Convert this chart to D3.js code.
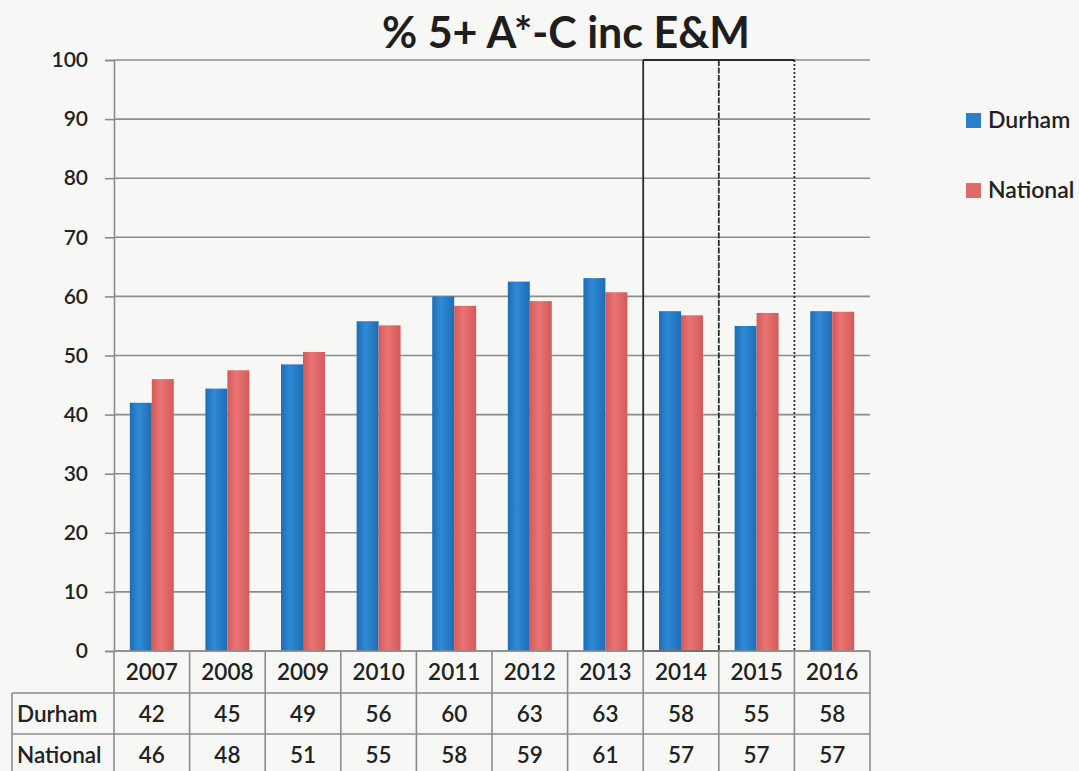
<!DOCTYPE html>
<html>
<head>
<meta charset="utf-8">
<script src="https://cdn.jsdelivr.net/npm/d3@7"></script>
<style>
  html, body { margin: 0; padding: 0; background: #f7f7f6; }
  svg { display: block; font-family: Lato, "Open Sans", sans-serif; }
</style>
</head>
<body>
<svg id="chart" width="1079" height="771"></svg>
<script>
// chart data
var years = ["2007", "2008", "2009", "2010", "2011", "2012", "2013", "2014", "2015", "2016"];
var seriesNames = ["Durham", "National"];
var durham = [42.0, 44.4, 48.5, 55.8, 60.0, 62.5, 63.1, 57.5, 55.0, 57.5];
var national = [46.0, 47.5, 50.6, 55.1, 58.4, 59.2, 60.7, 56.8, 57.2, 57.4];
// the table under the chart shows rounded figures
var durhamTable = ["42", "45", "49", "56", "60", "63", "63", "58", "55", "58"];
var nationalTable = ["46", "48", "51", "55", "58", "59", "61", "57", "57", "57"];
var yTicks = [0, 10, 20, 30, 40, 50, 60, 70, 80, 90, 100];

var colors = { Durham: "#2a7fca", National: "#e06a69" };

var svg = d3.select("#chart");

// scales
var x = d3.scaleBand()
    .domain(years)
    .range([114, 870]);

var x1 = d3.scaleBand()
    .domain(seriesNames)
    .range([0, x.bandwidth()])
    .paddingInner(0)
    .paddingOuter(0.72);

var y = d3.scaleLinear()
    .domain([0, 100])
    .range([651, 60]);

// bar gradients (slightly darker edges like the printed 3d bars)
var defs = svg.append("defs");
[["Durham", "#1f6db3", "#2e8ad6"], ["National", "#d45a5a", "#ea7473"]].forEach(function(g) {
    var lg = defs.append("linearGradient")
        .attr("id", "grad-" + g[0])
        .attr("x1", "0%").attr("x2", "100%").attr("y1", "0%").attr("y2", "0%");
    lg.append("stop").attr("offset", "0%").attr("stop-color", g[1]);
    lg.append("stop").attr("offset", "40%").attr("stop-color", g[2]);
    lg.append("stop").attr("offset", "100%").attr("stop-color", g[1]);
});

// title
svg.append("text")
    .attr("x", 566)
    .attr("y", 48)
    .attr("text-anchor", "middle")
    .style("font-size", "43px")
    .style("font-weight", "bold")
    .style("fill", "#1e1e1e")
    .text("% 5+ A*-C inc E&M");

// gridlines
svg.append("g")
    .selectAll("line")
    .data(yTicks)
    .enter().append("line")
    .attr("x1", x.range()[0])
    .attr("x2", x.range()[1])
    .attr("y1", function(d) { return y(d); })
    .attr("y2", function(d) { return y(d); })
    .style("stroke", "#8c8c8c")
    .style("stroke-width", 1.6);

// y axis
var yAxis = svg.append("g")
    .attr("transform", "translate(" + x.range()[0] + ",0)")
    .call(d3.axisLeft(y).tickValues(yTicks).tickSize(9).tickPadding(17));
yAxis.select(".domain").style("stroke", "#8c8c8c").style("stroke-width", 1.6);
yAxis.selectAll(".tick line").style("stroke", "#8c8c8c").style("stroke-width", 1.6);
yAxis.selectAll(".tick text")
    .style("font-family", "Lato, sans-serif")
    .style("font-size", "21px")
    .style("font-weight", "600")
    .style("fill", "#222");

// bars
var rows = years.map(function(yr, i) {
    return { year: yr, Durham: durham[i], National: national[i] };
});

var groups = svg.append("g")
    .selectAll("g")
    .data(rows)
    .enter().append("g")
    .attr("transform", function(d) { return "translate(" + x(d.year) + ",0)"; });

groups.selectAll("rect")
    .data(function(d) {
        return seriesNames.map(function(s) { return { key: s, value: d[s] }; });
    })
    .enter().append("rect")
    .attr("x", function(d) { return x1(d.key); })
    .attr("width", x1.bandwidth())
    .attr("y", function(d) { return y(d.value); })
    .attr("height", function(d) { return y(0) - y(d.value); })
    .style("fill", function(d) { return "url(#grad-" + d.key + ")"; });

// hand drawn boxes round 2014 and 2015
var bx0 = x("2014"), bx1 = x("2015"), bx2 = x("2016");
var ann = svg.append("g").style("stroke", "#2b2b2b").style("fill", "none");
ann.append("line").attr("x1", bx0).attr("x2", bx0).attr("y1", y(100)).attr("y2", y(0)).style("stroke-width", 1.8);
ann.append("line").attr("x1", bx1).attr("x2", bx1).attr("y1", y(100)).attr("y2", y(0))
    .style("stroke-width", 1.8).style("stroke-dasharray", "6,1.5");
ann.append("line").attr("x1", bx2).attr("x2", bx2).attr("y1", y(100)).attr("y2", y(0))
    .style("stroke-width", 1.8).style("stroke-dasharray", "2,2");
ann.append("line").attr("x1", bx0).attr("x2", bx2).attr("y1", y(100)).attr("y2", y(100)).style("stroke-width", 1.8);
ann.append("line").attr("x1", bx0).attr("x2", bx1).attr("y1", y(0)).attr("y2", y(0)).style("stroke-width", 1.8);

// data table
var rowTop = [651, 693, 734];
var tableLeft = 12;
var tableRight = x.range()[1];
var table = svg.append("g");
var lineStyle = function(sel) {
    return sel.style("stroke", "#8c8c8c").style("stroke-width", 1.6);
};

// horizontal lines
lineStyle(table.append("line").attr("x1", x.range()[0]).attr("x2", tableRight).attr("y1", rowTop[0]).attr("y2", rowTop[0]));
lineStyle(table.append("line").attr("x1", tableLeft).attr("x2", tableRight).attr("y1", rowTop[1]).attr("y2", rowTop[1]));
lineStyle(table.append("line").attr("x1", tableLeft).attr("x2", tableRight).attr("y1", rowTop[2]).attr("y2", rowTop[2]));

// vertical lines
var colEdges = years.map(function(d) { return x(d); }).concat([tableRight]);
colEdges.forEach(function(cx) {
    lineStyle(table.append("line").attr("x1", cx).attr("x2", cx).attr("y1", rowTop[0]).attr("y2", 771));
});
lineStyle(table.append("line").attr("x1", tableLeft).attr("x2", tableLeft).attr("y1", rowTop[1]).attr("y2", 771));

var cellText = function(sel) {
    return sel.style("font-size", "22.5px").style("font-weight", "600").style("fill", "#222");
};

cellText(table.append("g").selectAll("text")
    .data(years)
    .enter().append("text")
    .attr("x", function(d) { return x(d) + x.bandwidth() / 2; })
    .attr("y", rowTop[0] + 29)
    .attr("text-anchor", "middle")
    .text(function(d) { return d; }));

[durhamTable, nationalTable].forEach(function(vals, r) {
    cellText(table.append("text")
        .attr("x", tableLeft + 5)
        .attr("y", rowTop[r + 1] + 29)
        .text(seriesNames[r]));
    cellText(table.append("g").selectAll("text")
        .data(vals)
        .enter().append("text")
        .attr("x", function(d, i) { return x(years[i]) + x.bandwidth() / 2; })
        .attr("y", rowTop[r + 1] + 29)
        .attr("text-anchor", "middle")
        .text(function(d) { return d; }));
});

// legend
var legend = svg.append("g")
    .selectAll("g")
    .data(seriesNames)
    .enter().append("g")
    .attr("transform", function(d, i) { return "translate(966," + (113 + i * 70) + ")"; });

legend.append("rect")
    .attr("width", 15)
    .attr("height", 15)
    .style("fill", function(d) { return colors[d]; });

legend.append("text")
    .attr("x", 22)
    .attr("y", 15)
    .style("font-size", "23px")
    .style("font-weight", "600")
    .style("fill", "#222")
    .text(function(d) { return d; });
</script>
</body>
</html>
